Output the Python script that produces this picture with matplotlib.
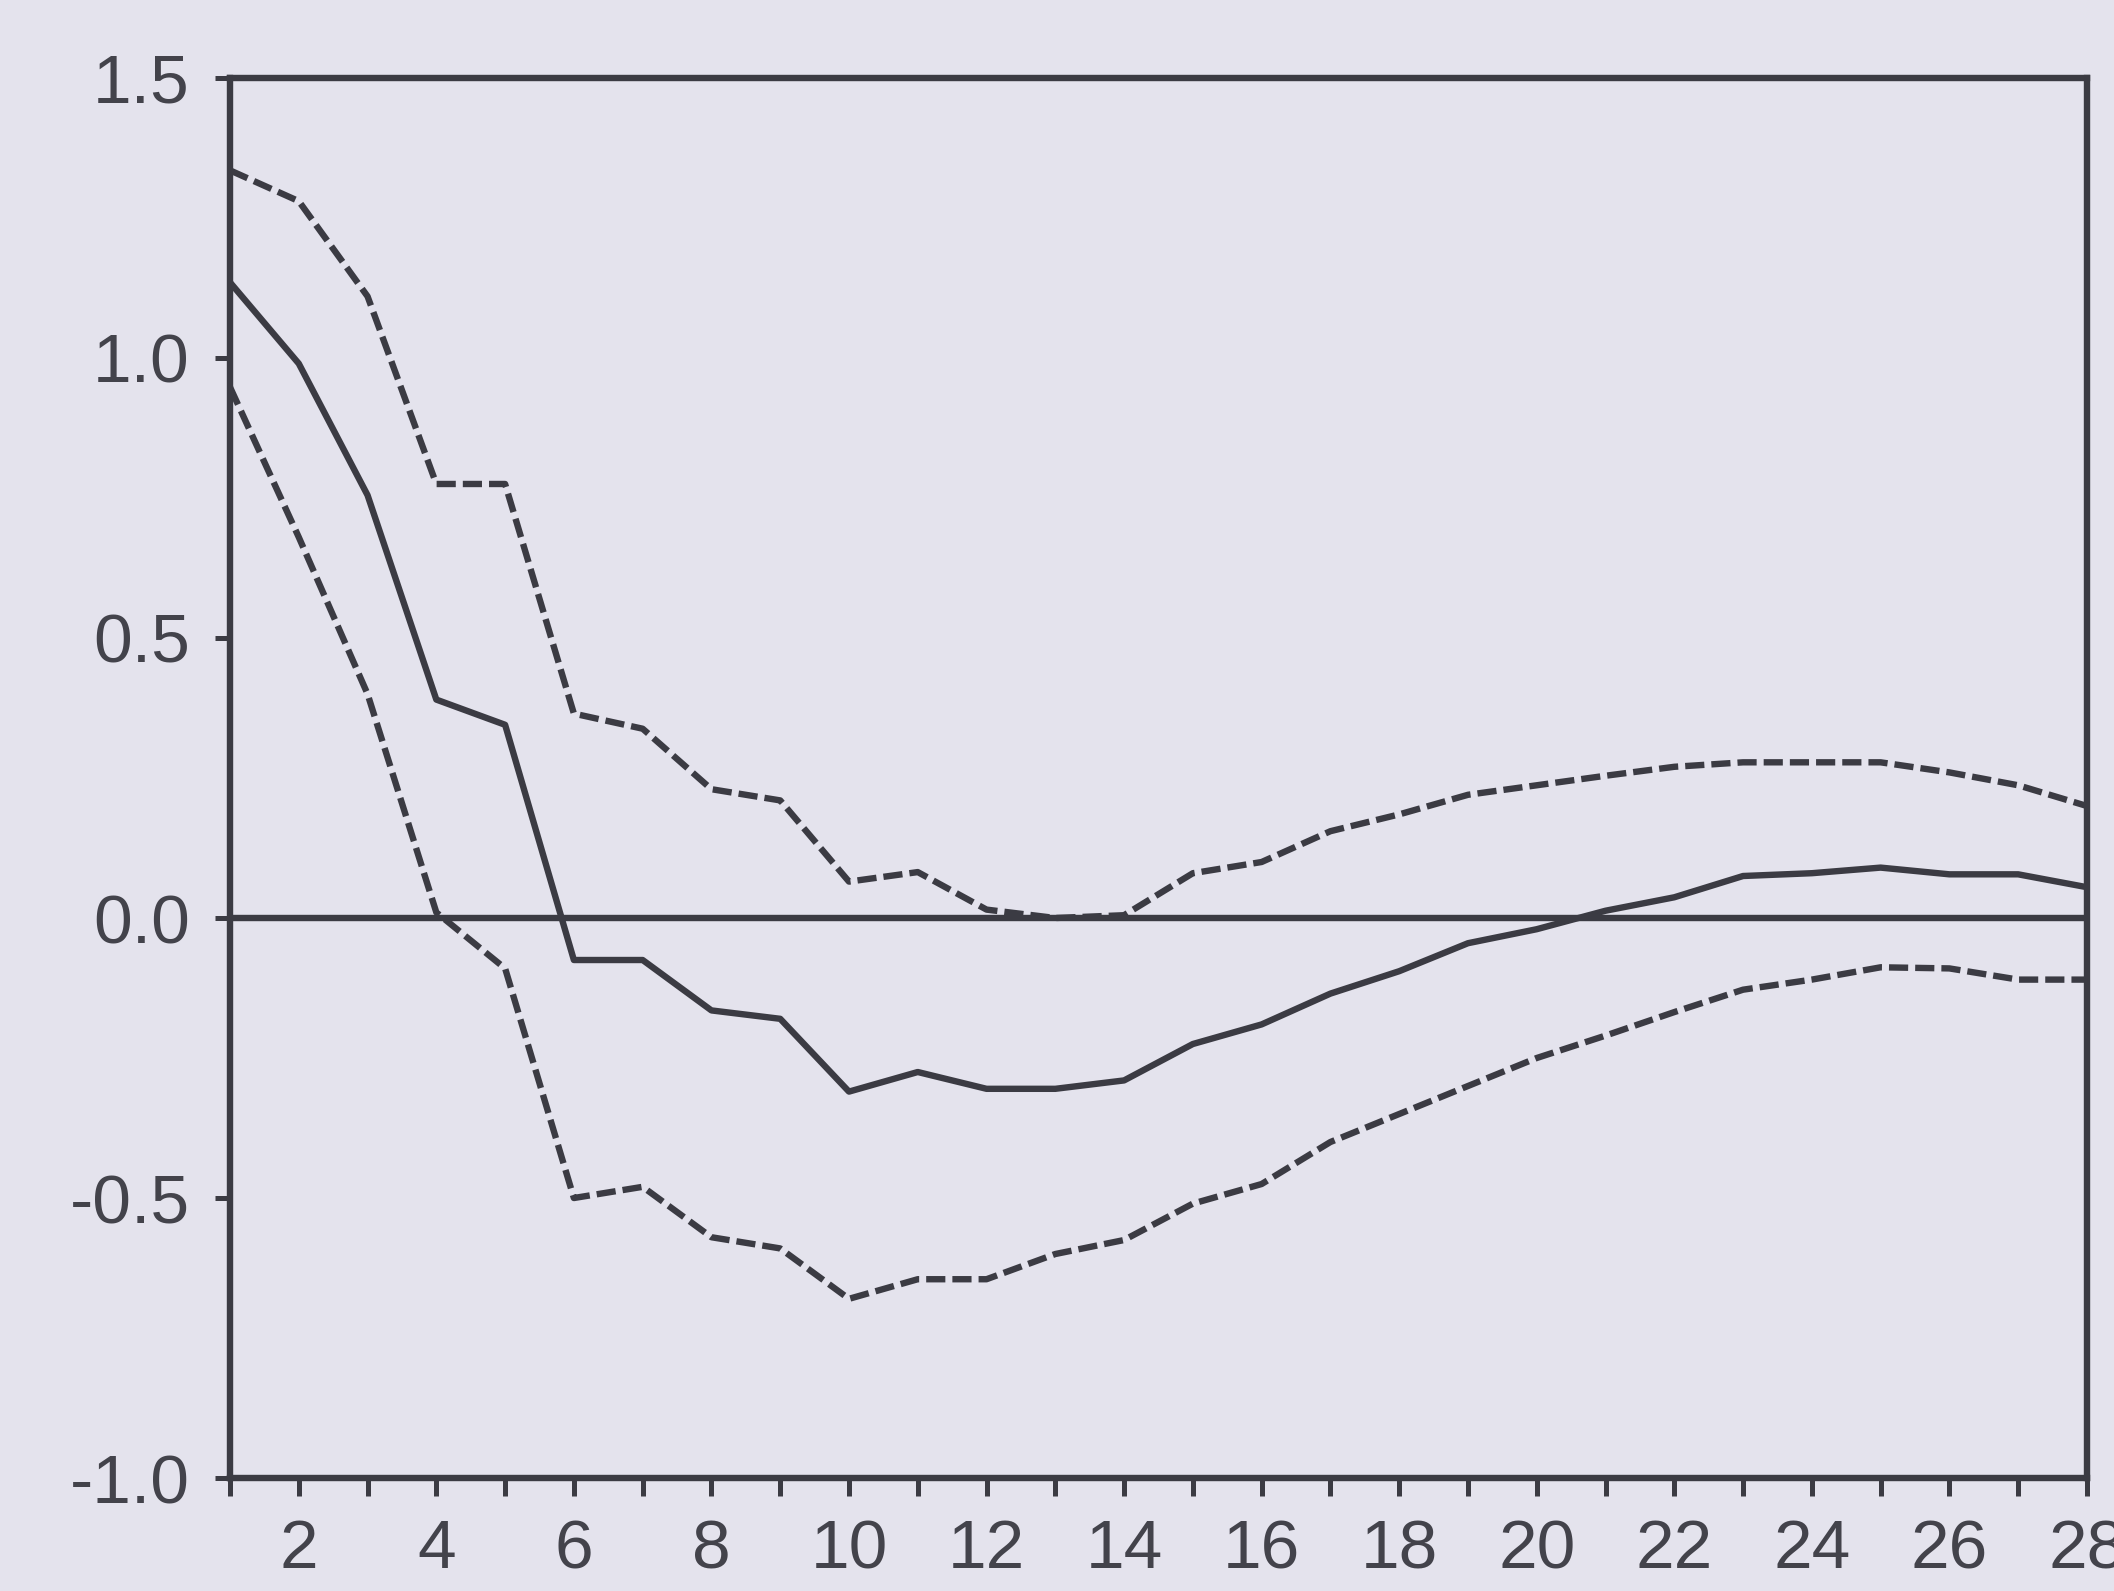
import matplotlib
matplotlib.use("Agg")
import matplotlib.pyplot as plt

# Impulse response (solid) with +/- 2 S.E. bands (dashed), periods 1..28
periods = list(range(1, 29))
response = [1.135, 0.99, 0.755, 0.39, 0.345, -0.075, -0.075, -0.165, -0.18, -0.31,
            -0.275, -0.305, -0.305, -0.29, -0.225, -0.19, -0.135, -0.095, -0.045, -0.02,
            0.013, 0.037, 0.075, 0.08, 0.09, 0.078, 0.078, 0.055]
upper_band = [1.335, 1.28, 1.11, 0.775, 0.775, 0.365, 0.338, 0.23, 0.21, 0.065,
              0.082, 0.015, 0.0, 0.005, 0.08, 0.10, 0.155, 0.185, 0.22, 0.237,
              0.254, 0.27, 0.278, 0.278, 0.278, 0.26, 0.237, 0.20]
lower_band = [0.948, 0.68, 0.40, 0.01, -0.09, -0.50, -0.48, -0.57, -0.59, -0.68,
              -0.645, -0.645, -0.60, -0.575, -0.51, -0.475, -0.40, -0.35, -0.30, -0.25,
              -0.21, -0.168, -0.128, -0.11, -0.088, -0.09, -0.11, -0.11]

y_ticks = [-1.0, -0.5, 0.0, 0.5, 1.0, 1.5]
x_label_ticks = list(range(2, 29, 2))

bg = "#e4e3ed"
ink = "#3b3b43"
text_col = "#43434b"

fig = plt.figure(figsize=(21.14, 15.91), dpi=100, facecolor=bg)
ax = fig.add_axes([0.1088, 0.071, 0.9872 - 0.1088, 0.951 - 0.071])
ax.set_facecolor(bg)

lw = 4.6
ax.axhline(0.0, color=ink, lw=lw, zorder=2)
ax.plot(periods, response, color=ink, lw=lw, zorder=3)
ax.plot(periods, upper_band, color=ink, lw=lw, dashes=(3.0, 1.1), zorder=3)
ax.plot(periods, lower_band, color=ink, lw=lw, dashes=(3.0, 1.1), zorder=3)

ax.set_xlim(1, 28)
ax.set_ylim(-1.0, 1.5)

for s in ax.spines.values():
    s.set_color(ink)
    s.set_linewidth(4.6)

ax.set_yticks(y_ticks)
ax.set_yticklabels([f"{v:.1f}" for v in y_ticks])
ax.set_xticks(periods, minor=True)
ax.set_xticks(x_label_ticks)
ax.set_xticklabels([str(v) for v in x_label_ticks])

ax.tick_params(axis="y", direction="out", length=11, width=3.6, color=ink,
               labelsize=50, labelcolor=text_col, pad=18)
ax.tick_params(axis="x", which="both", direction="out", length=13, width=3.6,
               color=ink, labelsize=50, labelcolor=text_col, pad=16)
ax.tick_params(axis="x", which="minor", labelbottom=False)

for lab in ax.get_xticklabels() + ax.get_yticklabels():
    lab.set_fontfamily(["Liberation Sans", "DejaVu Sans"])
for lab in ax.get_yticklabels():
    lab.set_verticalalignment("center_baseline")

fig.savefig("out.png", dpi=100, facecolor=bg)
